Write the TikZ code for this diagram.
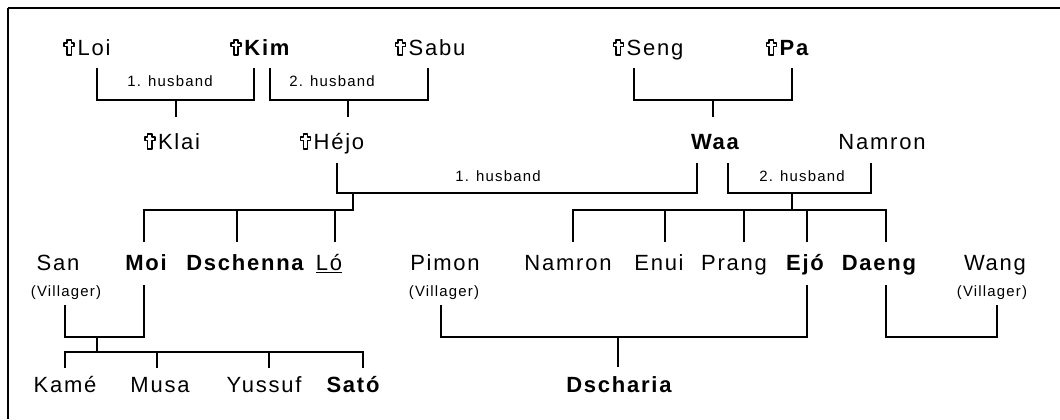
\documentclass[tikz,border=0pt]{standalone}
\usepackage{fontspec}
\setmainfont[LetterSpace=8]{Liberation Sans}
\usetikzlibrary{calc}
\begin{document}
\begin{tikzpicture}[x=0.75pt,y=-0.75pt,
  every node/.style={inner sep=0pt, anchor=base},
  nm/.style={font=\fontsize{16.5}{19}\selectfont},
  nmb/.style={font=\fontsize{16.5}{19}\selectfont\bfseries},
  lbl/.style={font=\fontsize{11.2}{13}\selectfont},
  link/.style={line width=0.8pt},
  deadcross/.pic={
    \draw[line width=1.25pt, line join=round]
      (-2.1,0) -- (2.1,0) -- (2.1,-8.5) -- (5,-8.5) -- (5,-12) -- (2.1,-12)
      -- (2.1,-15) -- (-2.1,-15) -- (-2.1,-12) -- (-5,-12) -- (-5,-8.5)
      -- (-2.1,-8.5) -- cycle;}]
\useasboundingbox (0,0) rectangle (1060,419);
% frame
\draw[line width=1.4pt] (8,8) -- (1060,8);
\draw[line width=0.8pt] (8,8) -- (8,419);

% generation 1 (baseline 55)
\node[nm]  (loi)  at (94,55)  {Loi};
\node[nmb] (kim)  at (267,55) {Kim};
\node[nm]  (sabu) at (437,55) {Sabu};
\node[nm]  (seng) at (655,55) {Seng};
\node[nmb] (pa)   at (794,55) {Pa};

% generation 2 (baseline 149)
\node[nm]  (klai) at (179,149) {Klai};
\node[nm]  (hejo) at (339,149) {Héjo};
\node[nmb] (waa)  at (715,149) {Waa};
\node[nm]  (namA) at (882,149) {Namron};

% deceased marks
\foreach \p in {loi,kim,sabu,seng,pa,klai,hejo}
  \pic at ($(\p.base west)+(-8,0)$) {deadcross};

% generation 3 (baseline 270)
\node[nm]  (san)   at (58,270)  {San};
\node[nmb] (moi)   at (146,270) {Moi};
\node[nmb] (dsch)  at (245,270) {Dschenna};
\node[nm]  (lo)    at (329,270) {\underline{Ló}};
\node[nm]  (pimon) at (445,270) {Pimon};
\node[nm]  (namB)  at (568,270) {Namron};
\node[nm]  (enui)  at (659,270) {Enui};
\node[nm]  (prang) at (734,270) {Prang};
\node[nmb] (ejo)   at (805,270) {Ejó};
\node[nmb] (daeng) at (879,270) {Daeng};
\node[nm]  (wang)  at (995,270) {Wang};
\node[lbl] (vsan)  at (66,296)  {(Villager)};
\node[lbl] (vpim)  at (444,296) {(Villager)};
\node[lbl] (vwang) at (992,296) {(Villager)};

% generation 4 (baseline 392)
\node[nm]  (kame)  at (65,392)  {Kamé};
\node[nm]  (musa)  at (160,392) {Musa};
\node[nm]  (yus)   at (264,392) {Yussuf};
\node[nmb] (sato)  at (353,392) {Sató};
\node[nmb] (dscha) at (619,392) {Dscharia};

% Loi + Kim -> Klai
\draw[link] ($(loi.base)+(3,13)$) -- ++(0,32) -| ($(kim.base)+(-13,13)$);
\node[lbl] (h1) at (170,86) {1. husband};
\draw[link] ($(klai.base)+(-3,-32)$) -- ++(0,-17);
% Kim + Sabu -> Hejo
\draw[link] ($(kim.base)+(3,13)$) -- ++(0,32) -| ($(sabu.base)+(-9,13)$);
\node[lbl] (h2) at (332,86) {2. husband};
\draw[link] ($(hejo.base)+(9,-32)$) -- ++(0,-17);
% Seng + Pa -> Waa
\draw[link] ($(seng.base)+(-21,13)$) -- ++(0,32) -| ($(pa.base)+(-2,13)$);
\draw[link] ($(waa.base)+(-2,-32)$) -- ++(0,-17);
% Hejo + Waa
\draw[link] ($(hejo.base)+(-2,14)$) -- ++(0,30) -| ($(waa.base)+(-18,14)$);
\node[lbl] (h3) at (498,181) {1. husband};
\draw[link] ($(moi.base)+(-2,-28)$) |- ($(hejo.base)+(14,61)$) -- ++(0,-17);
\draw[link] ($(dsch.base)+(-8,-28)$) -- ++(0,-32);
\draw[link] ($(lo.base)+(6,-28)$) -- ++(0,-32);
% Waa + Namron
\draw[link] ($(waa.base)+(13,14)$) -- ++(0,30) -| ($(namA.base)+(-11,14)$);
\node[lbl] (h4) at (802,181) {2. husband};
\draw[link] ($(waa.base)+(77,44)$) -- ++(0,17);
\draw[link] ($(namB.base)+(5,-28)$) |- ($(daeng.base)+(7,-60)$) -- ($(daeng.base)+(7,-28)$);
\draw[link] ($(enui.base)+(6,-28)$) -- ++(0,-32);
\draw[link] ($(prang.base)+(10,-28)$) -- ++(0,-32);
\draw[link] ($(ejo.base)+(2,-28)$) -- ++(0,-32);
% San + Moi
\draw[link] ($(vsan.base)+(-1,9)$) |- ($(moi.base)+(-2,67)$) -- ($(moi.base)+(-2,15)$);
\draw[link] ($(moi.base)+(-49,67)$) -- ++(0,15);
\draw[link] ($(kame.base)+(0,-24)$) |- ($(sato.base)+(10,-40)$) -- ($(sato.base)+(10,-24)$);
\draw[link] ($(musa.base)+(-3,-24)$) -- ++(0,-16);
\draw[link] ($(yus.base)+(5,-24)$) -- ++(0,-16);
% Pimon + Ejo -> Dscharia
\draw[link] ($(vpim.base)+(-3,9)$) |- ($(ejo.base)+(2,67)$) -- ($(ejo.base)+(2,15)$);
\draw[link] ($(dscha.base)+(-1,-25)$) -- ++(0,-30);
% Daeng + Wang
\draw[link] ($(daeng.base)+(7,15)$) |- ($(vwang.base)+(5,41)$) -- ($(vwang.base)+(5,9)$);
\end{tikzpicture}
\end{document}
